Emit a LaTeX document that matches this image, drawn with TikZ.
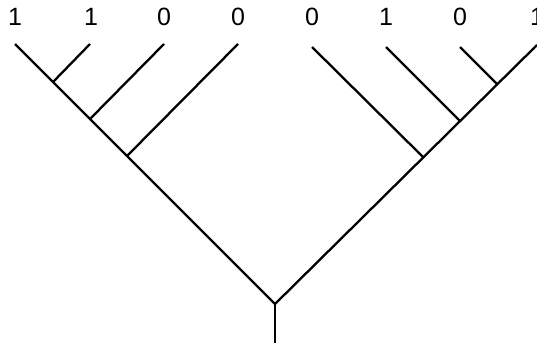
\documentclass[tikz,border=0pt]{standalone}
\usepackage{fontspec}
\setmainfont{Liberation Sans}
\newcommand{\lbl}[1]{{\fontsize{25}{30}\selectfont #1}}
\begin{document}
\begin{tikzpicture}[x=1pt,y=-1pt,
  branch/.style={line width=2.3pt,line cap=butt},
  leaflabel/.style={inner sep=0pt,anchor=center}]
\useasboundingbox (0,0) rectangle (537,345);
% leaf tops
\coordinate (l1) at (15,44);
\coordinate (l2) at (90,44);
\coordinate (l3) at (164,44);
\coordinate (l4) at (238,44);
\coordinate (r1) at (312,47);
\coordinate (r2) at (386,47);
\coordinate (r3) at (460,47);
\coordinate (r4) at (537,45);
% joins
\coordinate (root) at (275,304);
\coordinate (stem) at (275,343);
\coordinate (j1) at (53,82);
\coordinate (j2) at (90,119);
\coordinate (j3) at (127,156);
\coordinate (k3) at (497,84);
\coordinate (k2) at (460,121);
\coordinate (k1) at (423,157);
% labels
\node[leaflabel] (t1) at (15,17) {\lbl{1}};
\node[leaflabel] (t2) at (91,17) {\lbl{1}};
\node[leaflabel] (t3) at (164,17) {\lbl{0}};
\node[leaflabel] (t4) at (238,17) {\lbl{0}};
\node[leaflabel] (t5) at (312,17) {\lbl{0}};
\node[leaflabel] (t6) at (386,17) {\lbl{1}};
\node[leaflabel] (t7) at (460,17) {\lbl{0}};
\node[leaflabel] (t8) at (537,17) {\lbl{1}};
% branches
\draw[branch] (l1) -- (root) -- (r4);
\draw[branch] (root) -- (stem);
\draw[branch] (l2) -- (j1);
\draw[branch] (l3) -- (j2);
\draw[branch] (l4) -- (j3);
\draw[branch] (r1) -- (k1);
\draw[branch] (r2) -- (k2);
\draw[branch] (r3) -- (k3);
\end{tikzpicture}
\end{document}
